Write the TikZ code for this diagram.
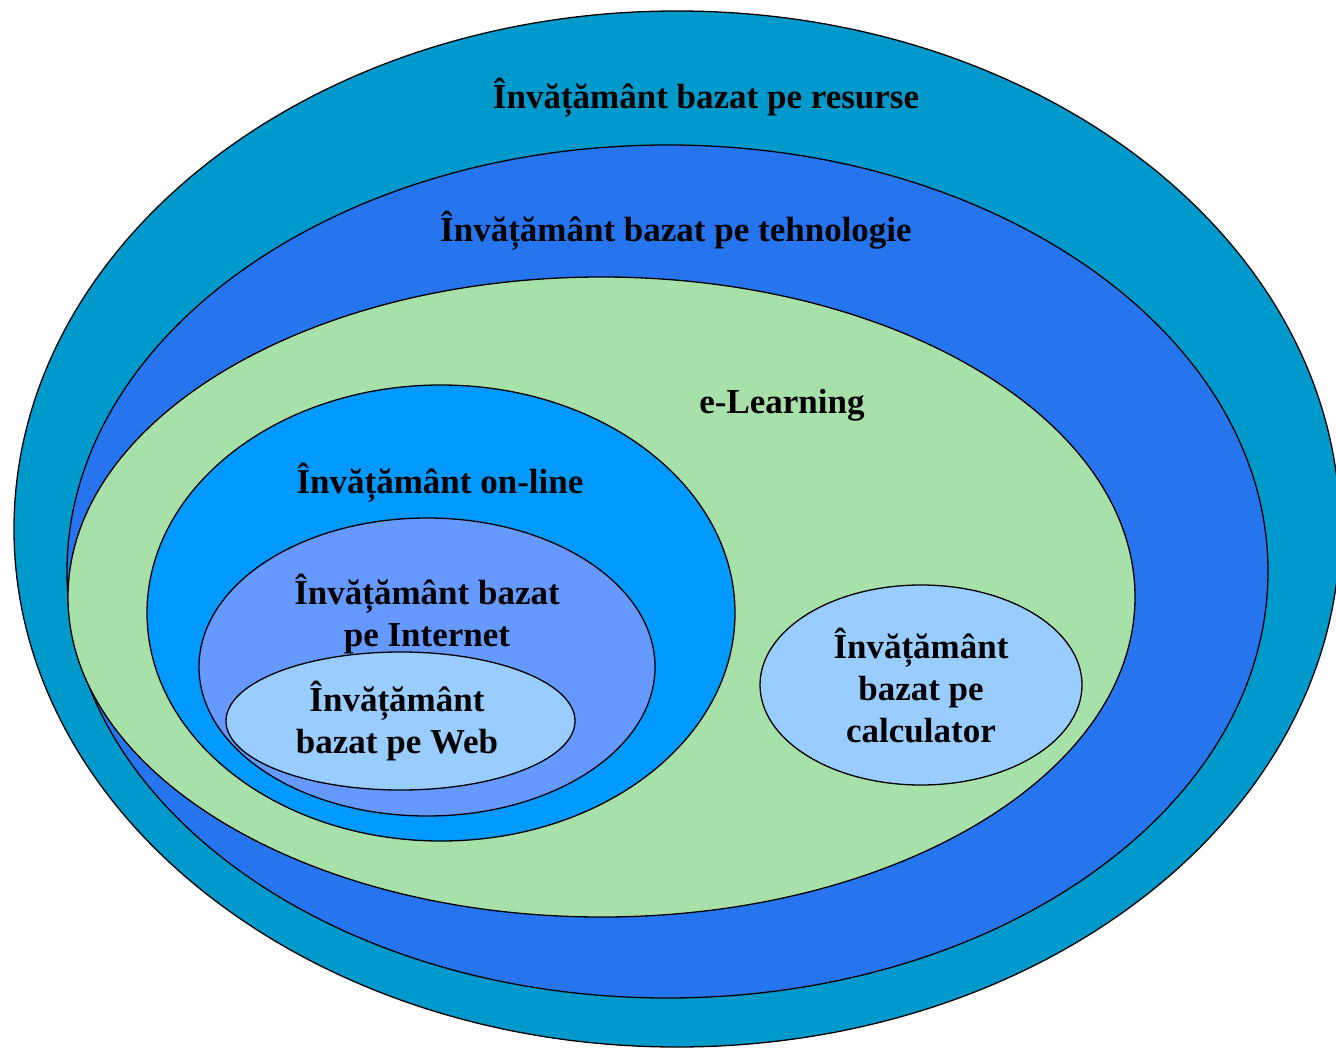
\documentclass[tikz,border=0pt]{standalone}
\usepackage{fontspec}
\setmainfont{Liberation Serif}
\usetikzlibrary{shapes.geometric}
\definecolor{cres}{RGB}{0,153,204}
\definecolor{cteh}{RGB}{38,116,238}
\definecolor{celr}{RGB}{168,224,170}
\definecolor{conl}{RGB}{0,153,255}
\definecolor{cint}{RGB}{102,153,255}
\definecolor{cweb}{RGB}{153,204,255}
\tikzset{
  ell/.style={ellipse, draw=black, line width=1.3pt, inner sep=0pt},
  lbl/.style={font=\bfseries\fontsize{35}{42}\selectfont, align=center, inner sep=0pt, text=black}
}
\begin{document}
\begin{tikzpicture}[x=1pt,y=-1pt]
\useasboundingbox (0,0) rectangle (1336,1049);
\clip (0,0) rectangle (1336,1049);
\node[ell, fill=cres, minimum width=1326, minimum height=1036] (res) at (677,529) {};
\node[ell, fill=cteh, minimum width=1201, minimum height=853] (teh) at (667.5,571.5) {};
\node[ell, fill=celr, minimum width=1067, minimum height=640] (elr) at (601.5,597) {};
\node[ell, fill=conl, minimum width=588, minimum height=456] (onl) at (441,613) {};
\node[ell, fill=cint, minimum width=456, minimum height=298] (int) at (427,667) {};
\node[ell, fill=cweb, minimum width=349, minimum height=138] (web) at (400.5,721) {};
\node[ell, fill=cweb, minimum width=322, minimum height=200] (calc) at (921,685) {};
\node[lbl] (tres) at (706,98) {Învățământ bazat pe resurse};
\node[lbl] (tteh) at (676,231) {Învățământ bazat pe tehnologie};
\node[lbl] (telr) at (782,405) {e-Learning};
\node[lbl] (tonl) at (440,483) {Învățământ on-line};
\node[lbl] (tint) at (427,614) {Învățământ bazat\\pe Internet};
\node[lbl] (tweb) at (397,721) {Învățământ\\bazat pe Web};
\node[lbl] (tcalc) at (921,686) {Învățământ\\bazat pe\\calculator};
\end{tikzpicture}
\end{document}
